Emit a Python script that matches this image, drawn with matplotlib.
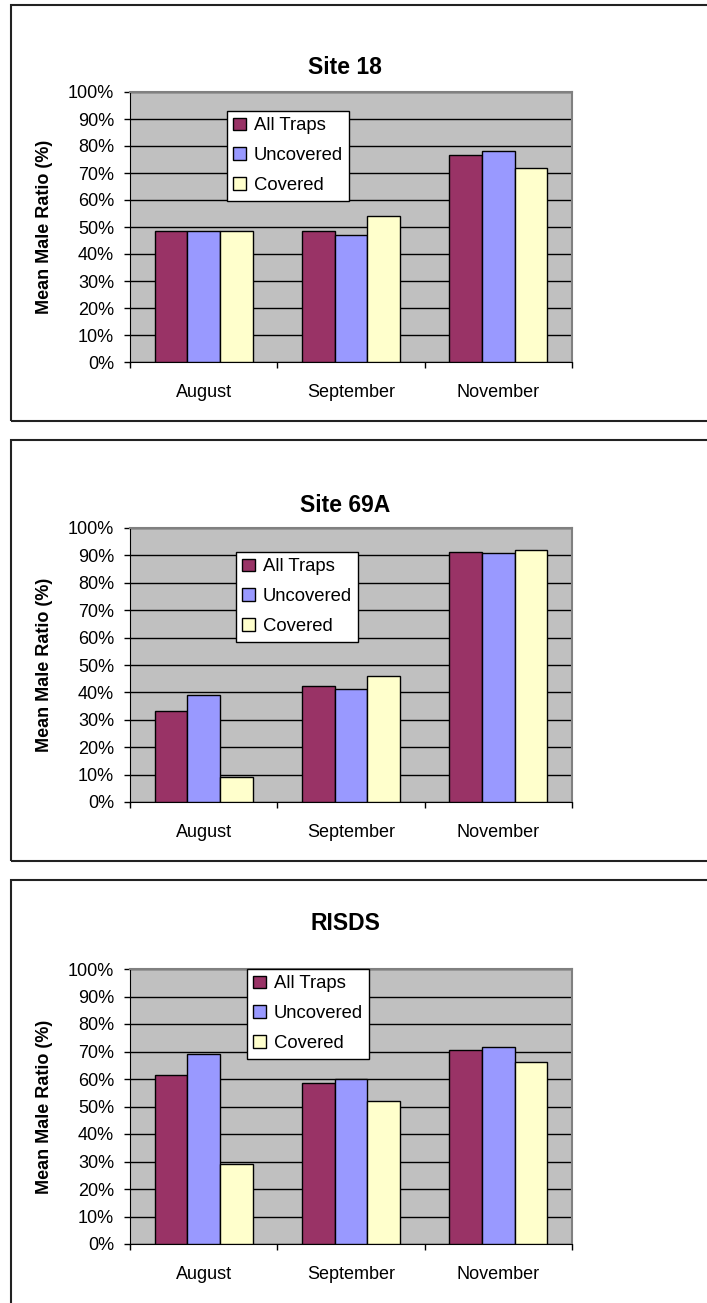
import matplotlib
matplotlib.use("Agg")
import matplotlib.pyplot as plt
import matplotlib.patches as patches
import numpy as np
from matplotlib.ticker import PercentFormatter

plt.rcParams['font.family'] = ['Liberation Sans', 'DejaVu Sans']

months = ["August", "September", "November"]
series = ["All Traps", "Uncovered", "Covered"]
colors = ["#993366", "#9999FF", "#FFFFCC"]

# mean male ratio (%) per month, one list per series
site18_all = [48.5, 48.5, 76.5]
site18_uncovered = [48.5, 47.0, 78.0]
site18_covered = [48.5, 54.2, 71.7]

site69a_all = [33.2, 42.3, 91.3]
site69a_uncovered = [38.9, 41.3, 90.7]
site69a_covered = [9.1, 46.1, 91.8]

risds_all = [61.6, 58.7, 70.7]
risds_uncovered = [69.2, 60.1, 71.7]
risds_covered = [29.0, 52.1, 66.3]

W, H = 707, 1303

fig = plt.figure(figsize=(W / 100, H / 100), dpi=100)


def add_panel(title, data, frame, plot, title_y, legend_xy):
    # outer frame round the chart
    fx0, fy0, fx1, fy1 = frame
    fig.patches.append(patches.Rectangle((fx0 / W, 1 - fy1 / H), (fx1 - fx0) / W, (fy1 - fy0) / H,
                                         transform=fig.transFigure, fill=False,
                                         edgecolor="#222222", lw=1.5))
    left, top, right, bottom = plot
    ax = fig.add_axes([left / W, 1 - bottom / H, (right - left) / W, (bottom - top) / H])
    ax.set_facecolor("#C0C0C0")

    x = np.arange(len(months))
    w = 1 / 4.5
    for i, (vals, name, c) in enumerate(zip(data, series, colors)):
        ax.bar(x + (i - 1) * w, vals, w, color=c, edgecolor="black", lw=1, label=name, zorder=3)

    ax.set_xlim(-0.5, 2.5)
    ax.set_ylim(0, 100)
    ax.set_yticks(np.arange(0, 101, 10))
    ax.yaxis.set_major_formatter(PercentFormatter(decimals=0))
    ax.grid(axis="y", color="black", lw=1, zorder=0)
    ax.set_axisbelow(True)

    ax.set_xticks(x)
    ax.set_xticklabels(months)
    ax.set_xticks([-0.5, 0.5, 1.5, 2.5], minor=True)
    ax.tick_params(axis="x", which="major", length=0, pad=16, labelsize=13)
    ax.tick_params(axis="x", which="minor", length=4.5, width=1, direction="out")
    ax.tick_params(axis="y", length=4.5, width=1, pad=7, labelsize=13)

    ax.spines["left"].set_color("black")
    ax.spines["bottom"].set_color("black")
    for s in ["top", "right"]:
        ax.spines[s].set_color("#808080")
        ax.spines[s].set_linewidth(1.5)

    fig.text(345 / W, 1 - title_y / H, title, ha="center", va="center",
             fontsize=16.5, fontweight="bold")
    fig.text(45 / W, 1 - (top + bottom) / 2 / H, "Mean Male Ratio (%)", rotation=90,
             ha="center", va="center", fontsize=13, fontweight="bold")

    leg = ax.legend(loc="upper left", bbox_to_anchor=(legend_xy[0] / W, 1 - legend_xy[1] / H),
                    bbox_transform=fig.transFigure, fontsize=13.3, frameon=True, fancybox=False,
                    framealpha=1, edgecolor="black", handlelength=0.7, handleheight=0.7,
                    handletextpad=0.4, labelspacing=0.7, borderpad=0.35, borderaxespad=0)
    leg.get_frame().set_linewidth(1)
    return ax


add_panel("Site 18", [site18_all, site18_uncovered, site18_covered],
          (11, 5, 730, 421), (130, 92, 572, 362), 67, (227, 111))
add_panel("Site 69A", [site69a_all, site69a_uncovered, site69a_covered],
          (11, 440, 730, 861), (130, 528, 572, 802), 505, (236, 552))
add_panel("RISDS", [risds_all, risds_uncovered, risds_covered],
          (11, 880, 730, 1320), (130, 969, 572, 1244), 923, (247, 969))

fig.savefig("out.png", dpi=100)
